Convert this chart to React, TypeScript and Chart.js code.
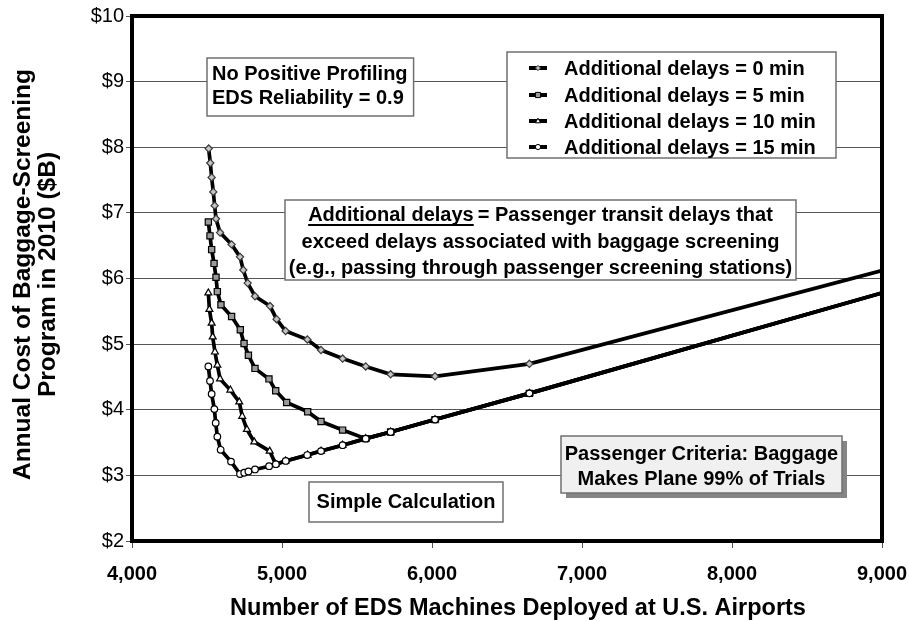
import React, { useEffect, useRef } from "react";
import { Chart, registerables } from "chart.js";

Chart.register(...registerables);

// ---- Data ----
const xTickValues = [4000, 5000, 6000, 7000, 8000, 9000];
const yTickValues = [2, 3, 4, 5, 6, 7, 8, 9, 10];

const seriesLabels = [
  "Additional delays = 0 min",
  "Additional delays = 5 min",
  "Additional delays = 10 min",
  "Additional delays = 15 min",
];

const xDelay0 = [4511, 4522, 4531, 4542, 4551, 4560, 4587, 4664, 4720, 4742, 4771, 4820, 4920, 4964, 5024, 5169, 5260, 5404, 5558, 5724, 6020, 6649, 9000];
const yDelay0 = [7.98, 7.76, 7.54, 7.32, 7.11, 6.91, 6.7, 6.52, 6.33, 6.13, 5.93, 5.73, 5.58, 5.38, 5.2, 5.07, 4.91, 4.78, 4.66, 4.54, 4.51, 4.7, 6.12];

const xDelay5 = [4509, 4520, 4531, 4547, 4560, 4569, 4593, 4664, 4722, 4747, 4776, 4820, 4913, 4958, 5031, 5171, 5260, 5404, 5558, 5724, 6020, 6649, 9000];
const yDelay5 = [6.86, 6.65, 6.44, 6.23, 6.02, 5.8, 5.6, 5.42, 5.22, 5.01, 4.83, 4.63, 4.47, 4.29, 4.11, 3.97, 3.82, 3.69, 3.56, 3.66, 3.85, 4.25, 5.78];

const xDelay10 = [4509, 4516, 4531, 4538, 4553, 4569, 4587, 4656, 4715, 4735, 4766, 4815, 4918, 4958, 5024, 5171, 5260, 5404, 5558, 5724, 6020, 6649, 9000];
const yDelay10 = [5.78, 5.53, 5.32, 5.11, 4.88, 4.68, 4.47, 4.3, 4.12, 3.9, 3.7, 3.51, 3.37, 3.17, 3.22, 3.31, 3.37, 3.46, 3.56, 3.66, 3.85, 4.25, 5.78];

const xDelay15 = [4509, 4520, 4531, 4549, 4558, 4569, 4591, 4660, 4720, 4748, 4776, 4820, 4914, 4959, 5025, 5168, 5260, 5404, 5558, 5724, 6020, 6649, 9000];
const yDelay15 = [4.66, 4.44, 4.24, 4.01, 3.8, 3.59, 3.39, 3.21, 3.02, 3.04, 3.06, 3.09, 3.14, 3.17, 3.22, 3.31, 3.37, 3.46, 3.56, 3.66, 3.85, 4.25, 5.78];

const xTitle = "Number of EDS Machines Deployed at U.S. Airports";
const yTitleLines = ["Annual Cost of Baggage-Screening", "Program in 2010 ($B)"];
const noteProfiling = ["No Positive Profiling", "EDS Reliability = 0.9"];
const noteDefinitionTerm = "Additional delays";
const noteDefinitionLines = [
  "= Passenger transit delays that",
  "exceed delays associated with baggage screening",
  "(e.g., passing through passenger screening stations)",
];
const noteCriteria = ["Passenger Criteria: Baggage", "Makes Plane 99% of Trials"];
const noteSimple = "Simple Calculation";

const FONT = '"Liberation Sans", Arial, Helvetica, sans-serif';

type MarkerKind = "diamond" | "square" | "triangle" | "circle";
const markerKinds: MarkerKind[] = ["diamond", "square", "triangle", "circle"];
const markerFills = ["#c4c4c4", "#9a9a9a", "#ffffff", "#ffffff"];
const markerStrokes = ["#3a3a3a", "#000000", "#000000", "#000000"];

function drawMarker(ctx: CanvasRenderingContext2D, kind: MarkerKind, x: number, y: number, r: number, fill: string, stroke: string) {
  ctx.save();
  ctx.beginPath();
  if (kind === "diamond") {
    ctx.moveTo(x, y - r);
    ctx.lineTo(x + r, y);
    ctx.lineTo(x, y + r);
    ctx.lineTo(x - r, y);
    ctx.closePath();
  } else if (kind === "square") {
    ctx.rect(x - r, y - r, 2 * r, 2 * r);
  } else if (kind === "triangle") {
    ctx.moveTo(x, y - r * 1.1);
    ctx.lineTo(x + r, y + r * 0.7);
    ctx.lineTo(x - r, y + r * 0.7);
    ctx.closePath();
  } else {
    ctx.arc(x, y, r, 0, Math.PI * 2);
  }
  ctx.fillStyle = fill;
  ctx.fill();
  ctx.lineWidth = 1;
  ctx.strokeStyle = stroke;
  ctx.stroke();
  ctx.restore();
}

function drawBox(ctx: CanvasRenderingContext2D, x: number, y: number, w: number, h: number, bg: string, shadow = false) {
  ctx.save();
  if (shadow) {
    ctx.fillStyle = "#858585";
    ctx.fillRect(x + 5, y + 5, w, h);
  }
  ctx.fillStyle = bg;
  ctx.fillRect(x, y, w, h);
  ctx.strokeStyle = "#707070";
  ctx.lineWidth = 1.5;
  ctx.strokeRect(x, y, w, h);
  ctx.restore();
}

const decorPlugin = {
  id: "decor",
  afterDatasetsDraw(chart: any) {
    const ctx: CanvasRenderingContext2D = chart.ctx;
    const { left, right, top, bottom } = chart.chartArea;
    ctx.save();

    // Plot frame
    ctx.strokeStyle = "#000";
    ctx.lineWidth = 4;
    ctx.strokeRect(left, top, right - left, bottom - top);

    ctx.font = `bold 20px ${FONT}`;
    ctx.textBaseline = "middle";
    ctx.fillStyle = "#000";

    // Box: No Positive Profiling
    {
      const bx = 207, by = 58;
      const w = Math.max(...noteProfiling.map((t) => ctx.measureText(t).width)) + 11;
      drawBox(ctx, bx, by, w, 58, "#fff");
      ctx.fillStyle = "#000";
      ctx.textAlign = "left";
      ctx.fillText(noteProfiling[0], bx + 5, by + 16);
      ctx.fillText(noteProfiling[1], bx + 5, by + 40);
    }

    // Legend box
    {
      const bx = 507, by = 52, w = 329, h = 106;
      drawBox(ctx, bx, by, w, h, "#fff");
      const rows = [68, 95, 121, 147];
      rows.forEach((ry, i) => {
        ctx.save();
        ctx.strokeStyle = "#000";
        ctx.lineWidth = 4;
        ctx.beginPath();
        ctx.moveTo(529, ry);
        ctx.lineTo(547, ry);
        ctx.stroke();
        ctx.restore();
        drawMarker(ctx, markerKinds[i], 538, ry, 2.6, markerFills[i], markerStrokes[i]);
        ctx.fillStyle = "#000";
        ctx.textAlign = "left";
        ctx.fillText(seriesLabels[i], 564, ry + 1);
      });
    }

    // Definition box
    {
      const bx = 285, by = 200, w = 511, h = 80;
      drawBox(ctx, bx, by, w, h, "#fff");
      const cx = bx + w / 2;
      const termW = ctx.measureText(noteDefinitionTerm).width;
      const gap = 4;
      const restW = ctx.measureText(noteDefinitionLines[0]).width;
      const startX = cx - (termW + gap + restW) / 2;
      const y1 = by + 15;
      ctx.textAlign = "left";
      ctx.fillStyle = "#000";
      ctx.fillText(noteDefinitionTerm, startX, y1);
      ctx.fillRect(startX, y1 + 9, termW, 2);
      ctx.fillText(noteDefinitionLines[0], startX + termW + gap, y1);
      ctx.textAlign = "center";
      ctx.fillText(noteDefinitionLines[1], cx, by + 42);
      ctx.fillText(noteDefinitionLines[2], cx, by + 68);
    }

    // Criteria box (with shadow)
    {
      const bx = 561, by = 436, w = 281, h = 57;
      drawBox(ctx, bx, by, w, h, "#f0f0f0", true);
      ctx.fillStyle = "#000";
      ctx.textAlign = "center";
      ctx.fillText(noteCriteria[0], bx + w / 2, by + 18);
      ctx.fillText(noteCriteria[1], bx + w / 2, by + 43);
    }

    // Simple calculation box
    {
      const bx = 309, by = 482, w = 194, h = 40;
      drawBox(ctx, bx, by, w, h, "#fff");
      ctx.fillStyle = "#000";
      ctx.textAlign = "center";
      ctx.fillText(noteSimple, bx + w / 2, by + 20);
    }

    // Axis titles
    ctx.font = `bold 23.5px ${FONT}`;
    ctx.textAlign = "center";
    ctx.fillStyle = "#000";
    ctx.fillText(xTitle, 518, 609);

    ctx.font = `bold 24.5px ${FONT}`;
    const cy = (top + bottom) / 2 - 4;
    ctx.save();
    ctx.translate(23, cy);
    ctx.rotate(-Math.PI / 2);
    ctx.fillText(yTitleLines[0], 0, 0);
    ctx.restore();
    ctx.save();
    ctx.translate(48, cy);
    ctx.rotate(-Math.PI / 2);
    ctx.fillText(yTitleLines[1], 0, 0);
    ctx.restore();

    ctx.restore();
  },
};

export default function App() {
  const canvasRef = useRef<HTMLCanvasElement | null>(null);

  useEffect(() => {
    const canvas = canvasRef.current;
    if (!canvas) return;
    const xs = [xDelay0, xDelay5, xDelay10, xDelay15];
    const ys = [yDelay0, yDelay5, yDelay10, yDelay15];
    const pointStyles = ["rectRot", "rect", "triangle", "circle"];
    const radii = [3.6, 4.4, 4, 3.3];

    const datasets = xs.map((xArr, i) => {
      const last = xArr.length - 1;
      return {
        label: seriesLabels[i],
        data: xArr.map((x, j) => ({ x, y: ys[i][j] })),
        borderColor: "#000",
        borderWidth: 3.7,
        tension: 0,
        fill: false,
        pointStyle: pointStyles[i],
        pointRadius: (c: any) => (c.dataIndex === last ? 0 : radii[i]),
        pointBackgroundColor: markerFills[i],
        pointBorderColor: markerStrokes[i],
        pointBorderWidth: 1.2,
        order: 3 - i,
      };
    });

    const chart = new Chart(canvas, {
      type: "line",
      data: { datasets } as any,
      options: {
        animation: false,
        responsive: false,
        maintainAspectRatio: false,
        layout: { padding: { left: 0, top: 16, right: 27, bottom: 0 } },
        plugins: { legend: { display: false }, tooltip: { enabled: false } },
        scales: {
          x: {
            type: "linear",
            min: 4000,
            max: 9000,
            afterBuildTicks: (scale: any) => {
              scale.ticks = xTickValues.map((v) => ({ value: v }));
            },
            afterFit: (scale: any) => {
              scale.height = 80;
              scale.paddingLeft = 0;
              scale.paddingRight = 0;
            },
            border: { display: false },
            grid: { drawOnChartArea: false, drawTicks: true, tickLength: 7, color: "#555", lineWidth: 1 },
            ticks: {
              color: "#000",
              padding: 14,
              maxRotation: 0,
              font: { family: FONT, size: 20, weight: "bold" },
              callback: (v: any) => Number(v).toLocaleString("en-US"),
            },
          },
          y: {
            type: "linear",
            min: 2,
            max: 10,
            afterBuildTicks: (scale: any) => {
              scale.ticks = yTickValues.map((v) => ({ value: v }));
            },
            afterFit: (scale: any) => {
              scale.width = 132;
              scale.paddingTop = 0;
              scale.paddingBottom = 0;
            },
            border: { display: false },
            grid: { drawOnChartArea: true, drawTicks: true, tickLength: 6, color: "#555", lineWidth: 1 },
            ticks: {
              color: "#000",
              padding: 2,
              font: { family: FONT, size: 20 },
              callback: (v: any) => "$" + v,
            },
          },
        },
      } as any,
      plugins: [decorPlugin],
    });
    return () => chart.destroy();
  }, []);

  return (
    <div style={{ position: "fixed", left: 0, top: 0, width: 909, height: 621, background: "#fff" }}>
      <canvas ref={canvasRef} width={909} height={621} style={{ display: "block" }} />
    </div>
  );
}
